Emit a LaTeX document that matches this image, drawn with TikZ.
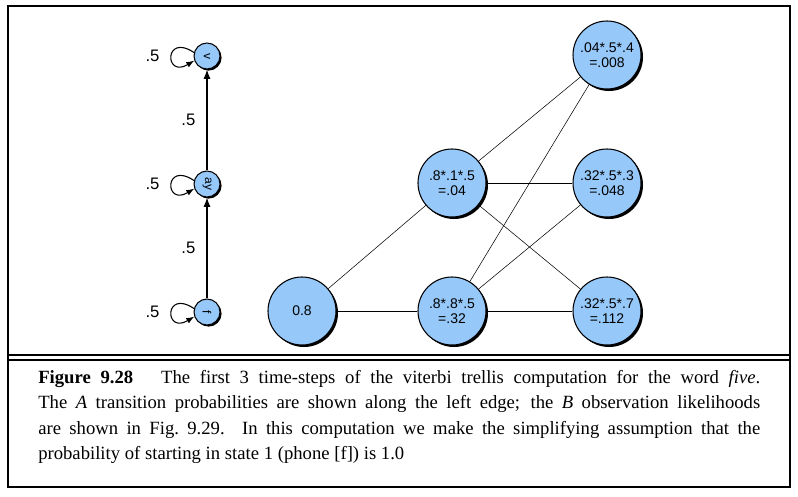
\documentclass[tikz,border=0pt]{standalone}
\usepackage{fontspec}
\setmainfont{Liberation Serif}
\newfontfamily\nodefont{Liberation Sans}
\usetikzlibrary{shadows,arrows.meta}
\definecolor{stfill}{RGB}{150,200,250}
\begin{document}
\begin{tikzpicture}[x=0.75pt,y=-0.75pt,
	state/.style={draw, circle, thick, fill=stfill, minimum size=26pt*0.75, inner sep=0pt,
		drop shadow={shadow xshift=1.2pt, shadow yshift=-1.2pt, fill=black, opacity=1},
		font=\nodefont\small},
	cell/.style={draw, circle, thick, fill=stfill, minimum size=68pt*0.75, inner sep=0pt,
		drop shadow={shadow xshift=1.5pt, shadow yshift=-1.5pt, fill=black, opacity=1},
		font=\nodefont\fontsize{10.5}{11}\selectfont, align=center},
	prob/.style={font=\nodefont\fontsize{12.5}{12.5}\selectfont}]
	\useasboundingbox (0,0) rectangle (798,496);
	\draw [thick] (8,6) rectangle (790,487);
	\draw [thick] (8,355) -- (790,355);
	\draw [thick] (8,360) -- (790,360);

	\node (f)[state] at (207,312) {\rotatebox{-90}{f}};
	\node (ay)[state] at (207,184) {\rotatebox{-90}{ay}};
	\node (v)[state] at (207,56) {\rotatebox{-90}{v}};

	\draw [thick,-{Latex[length=7pt]}](f) to node (l1)[prob, left=5pt, pos=0.5] {.5}(ay);
	\draw [thick,-{Latex[length=7pt]}](ay) to node (l2)[prob, left=5pt, pos=0.5] {.5}(v);

	\foreach \s in {f,ay,v}{
		\draw [thick,-{Latex[length=6pt]}] (\s.165) .. controls +(-30,-20) and +(-30,18) .. (\s.200);
		\node [prob, left=22pt] at (\s.west) {.5};
	}

	\node (c0)[cell] at (302,311) {0.8};
	\node (c1)[cell] at (452,183) {.8*.1*.5\\=.04};
	\node (c2)[cell] at (452,311) {.8*.8*.5\\=.32};
	\node (d1)[cell] at (607,55) {.04*.5*.4\\=.008};
	\node (d2)[cell] at (607,183) {.32*.5*.3\\=.048};
	\node (d3)[cell] at (607,311) {.32*.5*.7\\=.112};

	\draw (c0) -- (c1);
	\draw (c0) -- (c2);
	\foreach \a in {c1,c2}
		\foreach \b in {d1,d2,d3}
			\draw (\a) -- (\b);

	\node (cap)[anchor=north west, text width=722pt*0.75, align=justify, font=\fontsize{14}{19}\selectfont, inner sep=0pt] at (38,370)
		{\textbf{Figure 9.28}\hspace{1.5em}The first 3 time-steps of the viterbi trellis computation for the word \textit{five}.\linebreak
		The \textit{A} transition probabilities are shown along the left edge; the \textit{B} observation likelihoods\linebreak
		are shown in Fig.~9.29. In this computation we make the simplifying assumption that the\linebreak
		probability of starting in state 1 (phone [f]) is 1.0};
\end{tikzpicture}
\end{document}
